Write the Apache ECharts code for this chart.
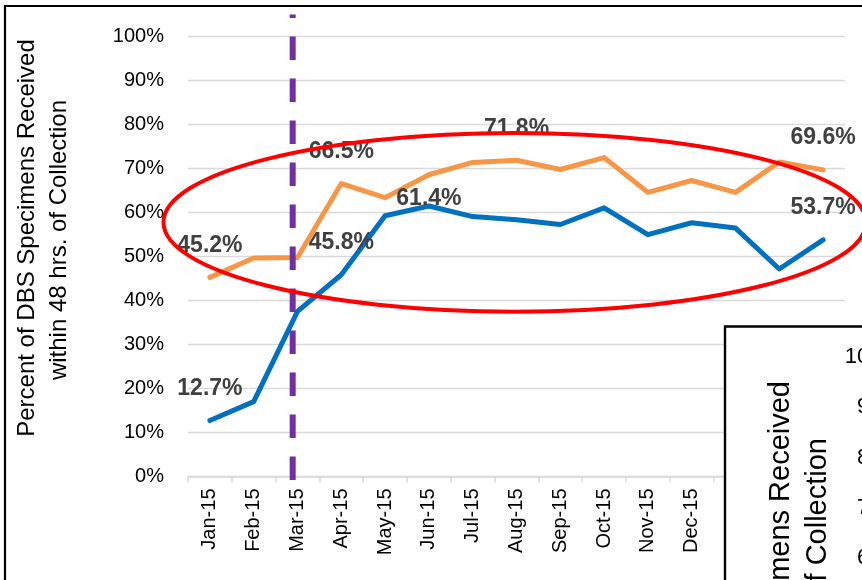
<!DOCTYPE html>
<html>
<head>
<meta charset="utf-8">
<script src="https://cdn.jsdelivr.net/npm/echarts@6/dist/echarts.min.js"></script>
<style>
html,body{margin:0;padding:0;background:#fff;}
#main{width:862px;height:580px;}
</style>
</head>
<body>
<div id="main"></div>
<script>
// ---- data ----
const categories = ['Jan-15','Feb-15','Mar-15','Apr-15','May-15','Jun-15','Jul-15','Aug-15','Sep-15','Oct-15','Nov-15','Dec-15','Jan-16','Feb-16','Mar-16'];
const orangeValues = [45.2, 49.6, 49.7, 66.5, 63.3, 68.5, 71.3, 71.8, 69.7, 72.4, 64.5, 67.2, 64.5, 71.4, 69.6];
const blueValues   = [12.7, 17.0, 37.5, 45.8, 59.2, 61.4, 59.0, 58.3, 57.2, 61.0, 54.9, 57.6, 56.4, 47.1, 53.7];
const orangeLabelIdx = [0, 3, 7, 14];
const blueLabelIdx = [0, 3, 5, 14];
const yTicks = [0, 100, 10];
const yAxisTitle = ['Percent of DBS Specimens Received', 'within 48 hrs. of Collection'];
const insetTickLabels = ['100%', '90%', '80%', '70%', '60%', '50%'];
// annotation positions in data units (x: category index, y: percent)
const phaseLineX = 1.89;
const phaseLineY = [-0.8, 104.9];
const ellipseData = {cx: 6.96, cy: 57.7, rx: 8.02, ry: 20.3};

const FONT = 'Liberation Sans';
const chart = echarts.init(document.getElementById('main'), null, {renderer: 'canvas'});

function buildData(values, labelIdx, offsets) {
  return values.map((v, i) => {
    if (labelIdx.indexOf(i) < 0) return v;
    const off = (offsets && offsets[i] !== undefined) ? offsets[i] : -32;
    return {
      value: v,
      label: {
        show: true,
        position: 'inside',
        offset: [0, off],
        formatter: v.toFixed(1) + '%',
        fontFamily: FONT, fontSize: 23, fontWeight: 'bold', color: '#404040'
      }
    };
  });
}

const option = {
  animation: false,
  backgroundColor: '#fff',
  grid: {left: 188, right: 17, top: 36, bottom: 103.5, containLabel: false},
  xAxis: [{
    type: 'category',
    data: categories,
    boundaryGap: true,
    axisLine: {lineStyle: {color: '#D9D9D9', width: 1.5}},
    axisTick: {show: true, length: 6, lineStyle: {color: '#D9D9D9', width: 1.5}},
    axisLabel: {rotate: 90, interval: 0, margin: 12, fontFamily: FONT, fontSize: 20, color: '#000'}
  }, {
    type: 'value', min: -0.5, max: 14.5, show: false
  }],
  yAxis: {
    type: 'value', min: yTicks[0], max: yTicks[1], interval: yTicks[2],
    axisLine: {show: false}, axisTick: {show: false},
    splitLine: {lineStyle: {color: '#D9D9D9', width: 1.3}},
    axisLabel: {formatter: '{value}%', margin: 24, fontFamily: FONT, fontSize: 20, color: '#000'}
  },
  series: [{
    type: 'line', name: 'orange',
    data: buildData(orangeValues, orangeLabelIdx),
    symbol: 'circle', symbolSize: 1, showSymbol: true, showAllSymbol: true,
    itemStyle: {color: '#F79646'},
    lineStyle: {color: '#F79646', width: 5, join: 'round', cap: 'round'},
    z: 2
  }, {
    type: 'line', name: 'blue',
    data: buildData(blueValues, blueLabelIdx, {5: -7}),
    symbol: 'circle', symbolSize: 1, showSymbol: true, showAllSymbol: true,
    itemStyle: {color: '#0070C0'},
    lineStyle: {color: '#0070C0', width: 5, join: 'round', cap: 'round'},
    z: 3
  }, {
    type: 'line', name: 'phase',
    xAxisIndex: 1,
    data: [[phaseLineX, phaseLineY[0]], [phaseLineX, phaseLineY[1]]],
    symbol: 'none', clip: false,
    lineStyle: {color: '#7030A0', width: 6, type: [23.5, 18.5], cap: 'butt'},
    z: 4
  }]
};
chart.setOption(option);

// annotations derived from data coordinates
const c = chart.convertToPixel({xAxisIndex: 1, yAxisIndex: 0}, [ellipseData.cx, ellipseData.cy]);
const e = chart.convertToPixel({xAxisIndex: 1, yAxisIndex: 0}, [ellipseData.cx + ellipseData.rx, ellipseData.cy + ellipseData.ry]);

const graphics = [
  // outer chart border
  {type: 'rect', z: 50, shape: {x: 5, y: 6, width: 900, height: 700},
   style: {fill: 'none', stroke: '#000', lineWidth: 2.2}},
  // y-axis title (two lines, rotated)
  {type: 'text', z: 50, x: 27, y: 238, rotation: Math.PI / 2,
   style: {text: yAxisTitle[0], font: '24px "' + FONT + '"', fill: '#000', textAlign: 'center', textVerticalAlign: 'middle'}},
  {type: 'text', z: 50, x: 59, y: 240, rotation: Math.PI / 2,
   style: {text: yAxisTitle[1], font: '24px "' + FONT + '"', fill: '#000', textAlign: 'center', textVerticalAlign: 'middle'}},
  // red ellipse annotation
  {type: 'ellipse', z: 60, shape: {cx: c[0], cy: c[1], rx: e[0] - c[0], ry: c[1] - e[1]},
   style: {fill: 'none', stroke: '#FF0000', lineWidth: 4}},
  // overlapping inset chart fragment
  {type: 'rect', z: 70, shape: {x: 725, y: 326.5, width: 300, height: 400},
   style: {fill: '#fff', stroke: '#000', lineWidth: 2.4}},
  {type: 'text', z: 71, x: 781, y: 381, rotation: Math.PI / 2,
   style: {text: yAxisTitle[0], font: '29px "' + FONT + '"', fill: '#000', textAlign: 'right', textVerticalAlign: 'middle'}},
  {type: 'text', z: 71, x: 818, y: 438, rotation: Math.PI / 2,
   style: {text: yAxisTitle[1], font: '29px "' + FONT + '"', fill: '#000', textAlign: 'right', textVerticalAlign: 'middle'}}
];
insetTickLabels.forEach((t, i) => {
  graphics.push({type: 'text', z: 71, x: 901, y: 357 + i * 50.3,
    style: {text: t, font: '22px "' + FONT + '"', fill: '#000', textAlign: 'right', textVerticalAlign: 'middle'}});
});
chart.setOption({graphic: graphics});
</script>
</body>
</html>
